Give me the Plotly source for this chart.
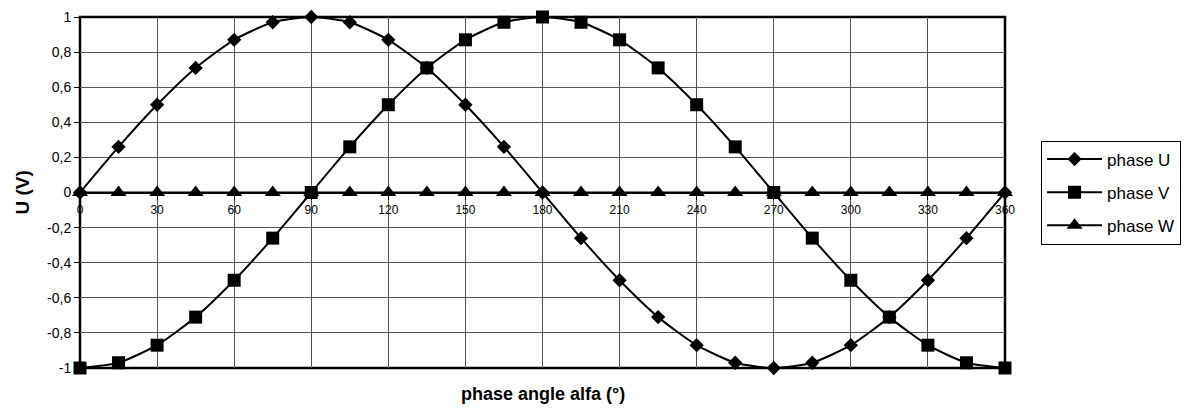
import plotly.graph_objects as go

angles = [0, 15, 30, 45, 60, 75, 90, 105, 120, 135, 150, 165, 180,
          195, 210, 225, 240, 255, 270, 285, 300, 315, 330, 345, 360]
phase_u = [0, 0.26, 0.5, 0.71, 0.87, 0.97, 1, 0.97, 0.87, 0.71, 0.5, 0.26, 0,
           -0.26, -0.5, -0.71, -0.87, -0.97, -1, -0.97, -0.87, -0.71, -0.5, -0.26, 0]
phase_v = [-1, -0.97, -0.87, -0.71, -0.5, -0.26, 0, 0.26, 0.5, 0.71, 0.87, 0.97, 1,
           0.97, 0.87, 0.71, 0.5, 0.26, 0, -0.26, -0.5, -0.71, -0.87, -0.97, -1]
phase_w = [0, 0, 0, 0, 0, 0, 0, 0, 0, 0, 0, 0, 0,
           0, 0, 0, 0, 0, 0, 0, 0, 0, 0, 0, 0]

x_ticks = [0, 30, 60, 90, 120, 150, 180, 210, 240, 270, 300, 330, 360]
y_ticks = [-1, -0.8, -0.6, -0.4, -0.2, 0, 0.2, 0.4, 0.6, 0.8, 1]
y_ticktext = ["-1", "-0,8", "-0,6", "-0,4", "-0,2", "0", "0,2", "0,4", "0,6", "0,8", "1"]

series = [
    ("phase U", phase_u, "diamond", 11),
    ("phase V", phase_v, "square", 13),
    ("phase W", phase_w, "triangle-up", 14),
]

fig = go.Figure()
for name, vals, sym, size in series:
    fig.add_trace(go.Scatter(
        x=angles, y=vals, name=name, legendgroup=name, mode="lines+markers",
        line=dict(color="black", width=2, shape="spline", smoothing=0.6),
        marker=dict(symbol=sym, size=size, color="black"),
        cliponaxis=False,
    ))

font = "Liberation Sans, Arial, sans-serif"
fig.update_layout(
    width=1200, height=410,
    margin=dict(l=72, r=203, t=9, b=50),
    paper_bgcolor="white", plot_bgcolor="white",
    font=dict(family=font, color="black", size=12),
    separators=", ",
    showlegend=True,
    legend=dict(x=1.039, y=0.5, xanchor="left", yanchor="middle",
                bordercolor="black", borderwidth=1, bgcolor="white",
                font=dict(size=17, family=font), itemwidth=55,
                tracegroupgap=8, traceorder="grouped"),
    xaxis=dict(range=[0, 360], tickvals=x_ticks, showgrid=True,
               gridcolor="#555555", gridwidth=1, anchor="free", position=0.5,
               showline=True, linecolor="black", linewidth=2,
               ticks="outside", ticklen=6, tickcolor="black", tickwidth=1,
               tickfont=dict(size=12), zeroline=False, automargin=False),
    yaxis=dict(range=[-1, 1], tickvals=y_ticks, ticktext=y_ticktext,
               showgrid=True, gridcolor="#555555", gridwidth=1,
               ticks="outside", ticklen=5, tickcolor="black",
               tickfont=dict(size=14), zeroline=False, showline=False,
               automargin=False),
    shapes=[dict(type="rect", xref="x domain", yref="y domain",
                 x0=0, x1=1, y0=0, y1=1, line=dict(color="black", width=2.5),
                 layer="below")],
    annotations=[
        dict(text="<b>phase angle alfa (°)</b>", xref="paper", yref="paper",
             x=0.5, y=0, xanchor="center", yanchor="middle", yshift=-26,
             showarrow=False, font=dict(size=18, family=font)),
        dict(text="<b>U (V)</b>", xref="paper", yref="paper", textangle=-90,
             x=0, y=0.5, xanchor="center", yanchor="middle", xshift=-58,
             showarrow=False, font=dict(size=19, family=font)),
    ],
)

fig.write_html("out.html")
